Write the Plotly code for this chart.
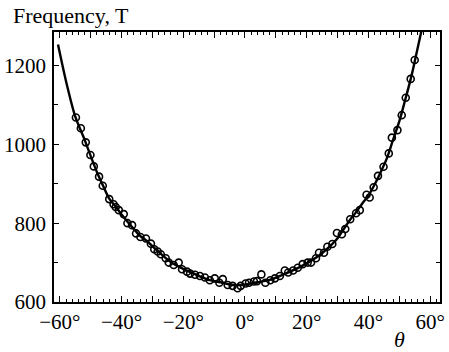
import plotly.graph_objects as go

# Measured points (angle in degrees, frequency in T)
theta_obs = [-54.8, -53.2, -51.6, -50.1, -49.0, -47.3, -46.1,
             -44.0, -42.6, -41.9, -40.9, -39.3, -38.1, -36.6, -35.3, -33.9, -32.1,
             -30.5, -29.4, -28.3, -27.3, -25.7, -24.7, -23.1, -21.5, -20.4, -18.8,
             -17.8, -16.2, -14.6, -13.0, -11.4, -9.8, -8.3, -7.2, -5.6, -4.0, -2.4,
             -1.4, 0.2, 1.3, 2.9, 3.9, 5.3, 6.6, 8.2, 9.7, 11.3, 12.9, 14.0, 15.6,
             17.1, 18.7, 20.3, 21.4, 23.0, 24.0, 25.6, 26.7, 28.3, 29.8, 31.4, 32.5,
             34.1, 36.0, 37.2, 39.4, 40.4, 41.7, 43.1, 44.9, 46.6, 47.6, 49.4, 50.8,
             52.1, 53.7, 55.0]
freq_obs = [1068, 1041, 1005, 973, 944, 918, 895,
            861, 848, 841, 833, 823, 800, 795, 774, 765, 761,
            748, 734, 728, 721, 711, 700, 694, 700, 683, 677,
            672, 669, 666, 662, 655, 660, 649, 658, 643, 641, 635,
            641, 647, 649, 652, 653, 670, 649, 655, 660, 666, 680, 675, 680,
            687, 696, 700, 700, 711, 725, 725, 740, 747, 775, 772, 785,
            810, 825, 833, 872, 865, 891, 920, 943, 977, 1017, 1036, 1074,
            1118, 1166, 1214]

# Smooth curve
theta_fit = [-60.6, -58, -55, -52, -50, -48, -46, -44, -42, -40, -38, -36, -34,
             -32, -30, -28, -24, -20, -16, -12, -8, -4, 0, 4, 8, 12, 16, 20,
             24, 28, 30, 32, 34, 36, 38, 40, 42, 44, 46, 48, 50, 52, 54, 55, 57.3]
freq_fit = [1253, 1160, 1070, 1012, 970, 930, 895, 862, 843, 822, 803, 785, 768,
            756, 742, 727, 701, 684, 670, 657, 650, 643, 644, 650, 656, 668, 682, 698,
            718, 745, 762, 785, 808, 828, 850, 870, 898, 930, 965, 1012, 1058, 1115,
            1175, 1210, 1292]

x_tickvals = [-60, -50, -40, -30, -20, -10, 0, 10, 20, 30, 40, 50, 60]
x_ticktext = ["\u221260\u00b0", "", "\u221240\u00b0", "", "\u221220\u00b0", "", "0\u00b0",
              "", "20\u00b0", "", "40\u00b0", "", "60\u00b0"]
y_tickvals = [600, 800, 1000, 1200]

FONT = "Liberation Serif"

fig = go.Figure()
fig.add_trace(go.Scatter(x=theta_fit, y=freq_fit, mode="lines",
                         line=dict(color="black", width=2.4, shape="spline", smoothing=0.8),
                         hoverinfo="skip", showlegend=False))
fig.add_trace(go.Scatter(x=theta_obs, y=freq_obs, mode="markers",
                         marker=dict(symbol="circle-open", size=7, color="black",
                                     line=dict(width=1.6, color="black")),
                         showlegend=False))

fig.update_layout(
    width=449, height=352,
    margin=dict(l=51, r=4, t=32, b=50),
    paper_bgcolor="white", plot_bgcolor="white",
    font=dict(family=FONT, size=21, color="black"),
    annotations=[
        dict(text="Frequency, T", xref="paper", yref="paper", x=-0.111, y=1.0,
             xanchor="left", yanchor="bottom", yshift=2, showarrow=False,
             font=dict(family=FONT, size=22, color="black")),
        dict(text="<i>\u03b8</i>", xref="paper", yref="paper", x=0.895, y=0,
             xanchor="center", yanchor="top", yshift=-23, showarrow=False,
             font=dict(family=FONT, size=22, color="black")),
    ],
)
fig.update_xaxes(
    range=[-61.9, 63.2], showgrid=False, zeroline=False,
    showline=True, linecolor="black", linewidth=1.6, mirror="ticks",
    ticks="inside", ticklen=6, tickwidth=1.2, tickcolor="black",
    tickmode="array", tickvals=x_tickvals, ticktext=x_ticktext,
    minor=dict(ticks="inside", dtick=2, ticklen=3, tickwidth=1, tickcolor="black", showgrid=False),
    tickfont=dict(family=FONT, size=21, color="black"),
)
fig.update_yaxes(
    range=[600, 1285], showgrid=False, zeroline=False,
    showline=True, linecolor="black", linewidth=1.6, mirror="ticks",
    ticks="inside", ticklen=5, tickwidth=1.2, tickcolor="black",
    tickmode="array", tickvals=y_tickvals,
    minor=dict(ticks="inside", dtick=100, ticklen=4, tickwidth=1, tickcolor="black", showgrid=False),
    tickfont=dict(family=FONT, size=21, color="black"),
    ticklabelstandoff=2,
)

fig.write_html("out.html")
